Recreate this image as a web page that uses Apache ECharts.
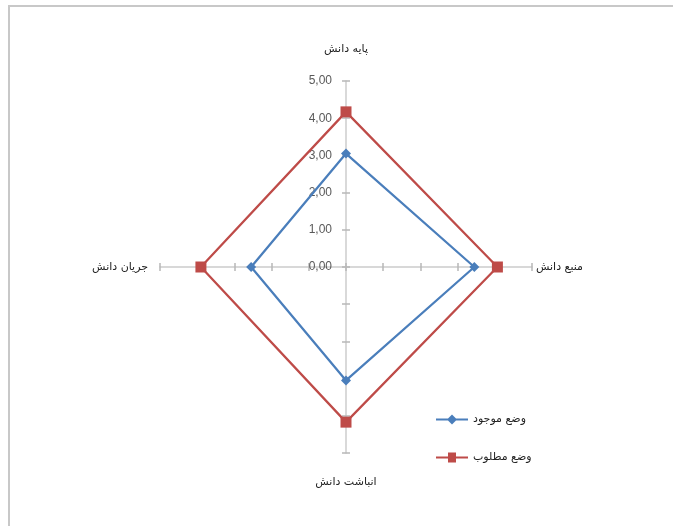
<!DOCTYPE html>
<html>
<head>
<meta charset="utf-8">
<script src="https://cdn.jsdelivr.net/npm/echarts@6/dist/echarts.min.js"></script>
<style>
html,body{margin:0;padding:0;background:#fff;}
#frame{position:absolute;left:8px;top:5px;right:0;bottom:0;border-top:2px solid #c8c8c8;border-left:2px solid #c8c8c8;}
#chart{position:absolute;left:0;top:0;width:673px;height:526px;}
</style>
</head>
<body>
<div id="frame"></div>
<div id="chart"></div>
<script>
// indicators listed in ECharts (counter-clockwise) order starting at top
const categories = ['پایه دانش', 'جریان دانش', 'انباشت دانش', 'منبع دانش'];
const seriesNames = ['وضع موجود', 'وضع مطلوب'];
const currentValues = [3.05, 2.55, 3.05, 3.45];
const desiredValues = [4.17, 3.9, 4.17, 4.07];
const axisMax = 5;

const blue = '#4A7EBB';
const red = '#BE4B48';
const center = [346, 267];
const radius = 186;

const nameStyles = {
  t: {padding: [0, 0, 22, 0]},
  l: {padding: [0, 8, 0, 0]},
  b: {padding: [20, 0, 0, 0]},
  r: {padding: [0, 0, 0, 0]}
};
const nameKeys = ['t', 'l', 'b', 'r'];

const chart = echarts.init(document.getElementById('chart'));
const option = {
  animation: false,
  legend: {
    orient: 'vertical',
    left: 431,
    top: 409,
    itemGap: 27,
    itemWidth: 32,
    itemHeight: 10,
    data: [
      {name: seriesNames[0], icon: 'path://M0,4H12L16,0L20,4H32V6H20L16,10L12,6H0Z', itemStyle: {color: blue}},
      {name: seriesNames[1], icon: 'path://M0,4H12V0H20V4H32V6H20V10H12V6H0Z', itemStyle: {color: red}}
    ],
    textStyle: {fontFamily: 'DejaVu Sans', fontSize: 11, color: '#222'}
  },
  radar: [{
    center: center,
    radius: radius,
    startAngle: 90,
    splitNumber: 5,
    shape: 'polygon',
    nameGap: 4,
    axisName: {
      color: '#222', fontFamily: 'DejaVu Sans', fontSize: 11,
      formatter: function (name) {
        const k = nameKeys[categories.indexOf(name)] || 'r';
        return '{' + k + '|' + name + '}';
      },
      rich: nameStyles
    },
    splitLine: {show: false},
    splitArea: {show: false},
    axisLine: {lineStyle: {color: '#cccccc', width: 1.5}},
    axisTick: {show: true, length: 4, lineStyle: {color: '#b8b8b8', width: 1.5}},
    axisLabel: {show: false},
    indicator: categories.map((c, i) => i === 0 ? {
      name: c, min: 0, max: axisMax,
      axisLabel: {show: true, margin: 14, color: '#595959', fontFamily: 'Liberation Sans', fontSize: 12,
        formatter: v => v.toFixed(2).replace('.', ',')}
    } : {name: c, min: 0, max: axisMax})
  }, {
    center: center,
    radius: radius,
    startAngle: 90,
    splitNumber: 5,
    shape: 'polygon',
    silent: true,
    axisName: {show: false},
    splitLine: {show: false},
    splitArea: {show: false},
    axisLine: {show: false},
    axisTick: {show: true, length: -4, lineStyle: {color: '#b8b8b8', width: 1.5}},
    axisLabel: {show: false},
    indicator: categories.map(c => ({name: c, min: 0, max: axisMax}))
  }],
  series: [{
    type: 'radar',
    radarIndex: 0,
    data: [
      {
        name: seriesNames[0], value: currentValues,
        symbol: 'diamond', symbolSize: 10,
        lineStyle: {color: blue, width: 2.25},
        itemStyle: {color: blue}
      },
      {
        name: seriesNames[1], value: desiredValues,
        symbol: 'rect', symbolSize: 11,
        lineStyle: {color: red, width: 2.25},
        itemStyle: {color: red}
      }
    ]
  }]
};
chart.setOption(option);
</script>
</body>
</html>
